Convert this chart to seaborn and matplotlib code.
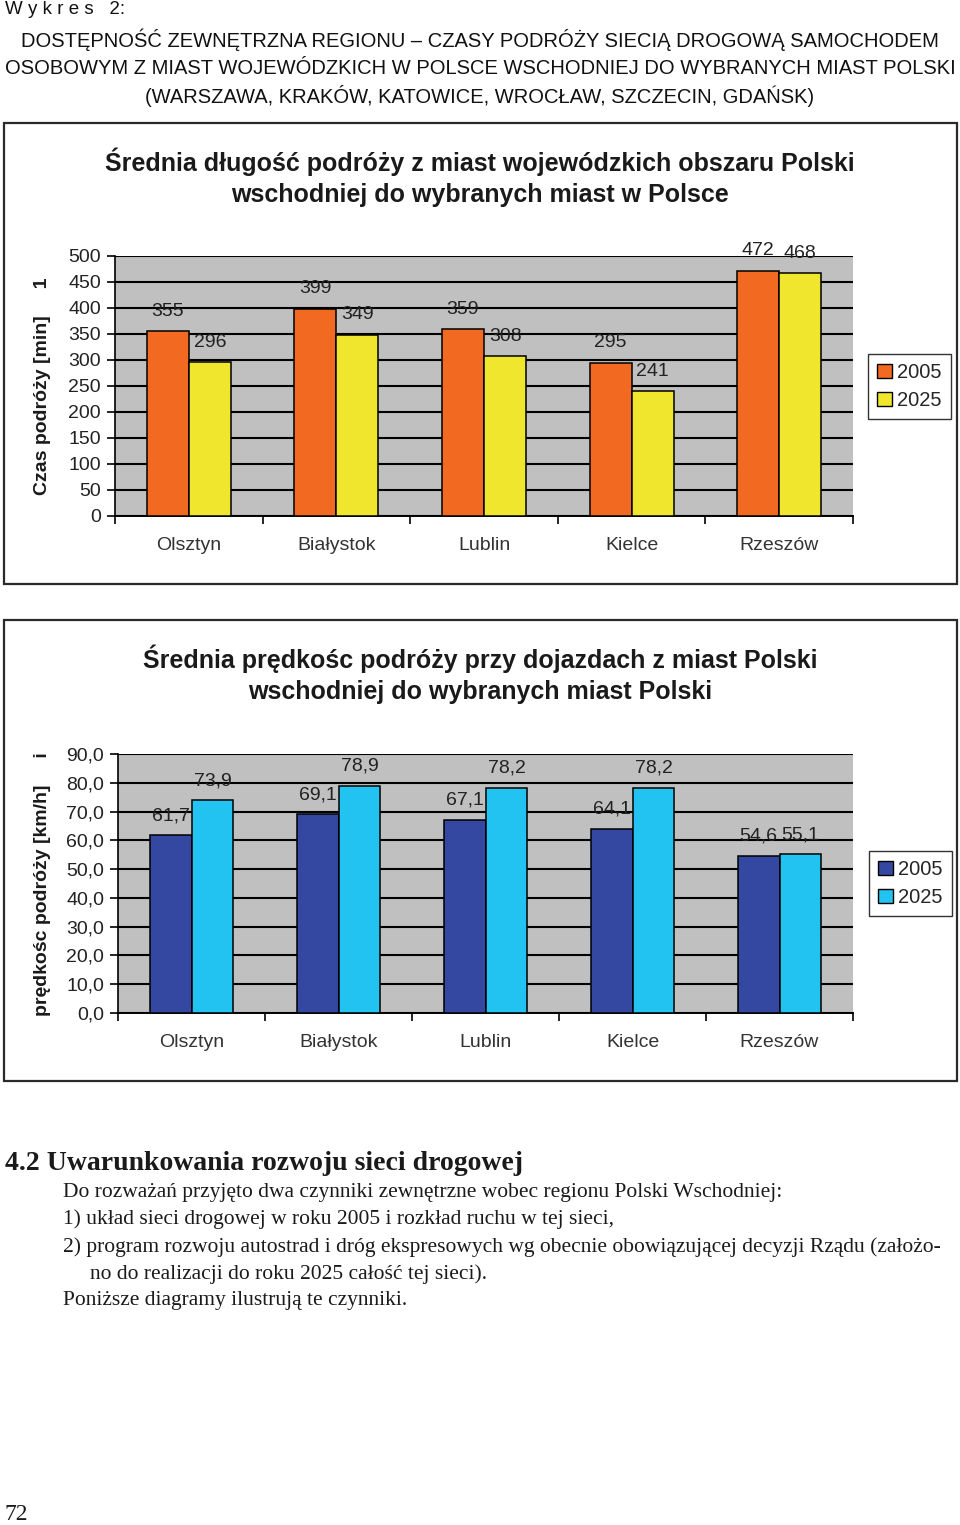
import numpy as np
import pandas as pd
import matplotlib
matplotlib.use("Agg")
import matplotlib.pyplot as plt
from matplotlib.patches import Rectangle
from matplotlib.ticker import FuncFormatter, FixedLocator
import seaborn as sns

# ─────────────────────────────────────────
# Data
# ─────────────────────────────────────────
cities     = ["Olsztyn", "Białystok", "Lublin", "Kielce", "Rzeszów"]
years      = ["2005", "2025"]
time_2005  = [355, 399, 359, 295, 472]
time_2025  = [296, 349, 308, 241, 468]
speed_2005 = [61.7, 69.1, 67.1, 64.1, 54.6]
speed_2025 = [73.9, 78.9, 78.2, 78.2, 55.1]

time_ticks  = [0, 50, 100, 150, 200, 250, 300, 350, 400, 450, 500]
speed_ticks = [0, 10, 20, 30, 40, 50, 60, 70, 80, 90]

W, H = 960, 1525

sns.set_style("white")
plt.rcParams["font.family"] = ["Liberation Sans", "DejaVu Sans"]

ORANGE, YELLOW = "#f26a22", "#efe62d"
NAVY, CYAN     = "#3448a2", "#22c3f1"
PANEL          = "#c0c0c0"


def px(x, y):
    return x / W, 1 - y / H


def rect(left, top, right, bottom):
    return [left / W, 1 - bottom / H, (right - left) / W, (bottom - top) / H]


def long_df(v05, v25):
    return pd.DataFrame({
        "city":  cities * 2,
        "year":  [years[0]] * len(cities) + [years[1]] * len(cities),
        "value": list(v05) + list(v25),
    })


def draw_chart(fig, box, frame, df, colors, ticks, ymax, fmt, title, ylabel,
               ylabel_y, legend_box):
    # frame around the chart
    fl, ft, fr, fb = frame
    fig.patches.append(Rectangle(px(fl, fb), (fr - fl) / W, (fb - ft) / H,
                                 transform=fig.transFigure, fill=False,
                                 edgecolor="#2a2a2a", lw=1.6, zorder=0))

    ax = fig.add_axes(rect(*box))
    ax.set_facecolor(PANEL)
    sns.barplot(data=df, x="city", y="value", hue="year", palette=colors,
                saturation=1, width=0.57, gap=0, edgecolor="black",
                linewidth=1.1, errorbar=None, ax=ax, zorder=3)

    ax.set_ylim(0, ymax)
    ax.set_xlim(-0.5, len(cities) - 0.5)
    ax.yaxis.set_major_locator(FixedLocator(ticks))
    ax.yaxis.set_major_formatter(FuncFormatter(lambda v, p: fmt(v)))
    ax.grid(axis="y", color="black", lw=1.5, zorder=1)
    ax.set_axisbelow(True)

    ax.xaxis.set_minor_locator(FixedLocator(np.arange(-0.5, len(cities), 1.0)))
    ax.tick_params(axis="x", which="major", length=0, pad=15, labelsize=14)
    ax.tick_params(axis="x", which="minor", length=6, width=1.2, color="black",
                   direction="out", bottom=True)
    ax.tick_params(axis="y", length=6, width=1.2, color="black", direction="out",
                   left=True, labelsize=14, pad=4)
    for lab in ax.get_xticklabels():
        lab.set_color("#333333")
    for lab in ax.get_yticklabels():
        lab.set_color("#222222")

    for s in ["top", "right"]:
        ax.spines[s].set_visible(False)
    ax.spines["left"].set_color("black")
    ax.spines["left"].set_linewidth(1.2)
    ax.spines["bottom"].set_color("black")
    ax.spines["bottom"].set_linewidth(1.4)
    ax.set_xlabel("")
    ax.set_ylabel("")

    for cont in ax.containers:
        vals = [b.get_height() for b in cont]
        ax.bar_label(cont, labels=[fmt(v) for v in vals], padding=8,
                     fontsize=14, color="#222222")

    ax.legend_.remove()
    handles = [Rectangle((0, 0), 1, 1, facecolor=c, edgecolor="black", lw=1)
               for c in colors]
    lx, ly = legend_box
    fig.legend(handles, years, loc="upper left", bbox_to_anchor=px(lx, ly),
               bbox_transform=fig.transFigure, frameon=True, fancybox=False,
               edgecolor="black", fontsize=14.5, handlelength=0.75,
               handleheight=0.75, handletextpad=0.25, borderpad=0.45,
               labelspacing=0.45, borderaxespad=0)

    tx, ty = title[1]
    fig.text(*px(tx, ty), title[0], ha="center", va="center", fontsize=18,
             fontweight="bold", color="#1a1a1a", linespacing=1.38)
    fig.text(*px(43, ylabel_y), ylabel, rotation=90, ha="center", va="center",
             fontsize=14, fontweight="bold", color="#1a1a1a")
    return ax


fig = plt.figure(figsize=(W / 100, H / 100), dpi=100)

# header
fig.text(*px(5, 10), "W y k r e s   2:", ha="left", va="center", fontsize=13.5,
         color="#111111")
header = [
    "DOSTĘPNOŚĆ ZEWNĘTRZNA REGIONU – CZASY PODRÓŻY SIECIĄ DROGOWĄ SAMOCHODEM",
    "OSOBOWYM Z MIAST WOJEWÓDZKICH W POLSCE WSCHODNIEJ DO WYBRANYCH MIAST POLSKI",
    "(WARSZAWA, KRAKÓW, KATOWICE, WROCŁAW, SZCZECIN, GDAŃSK)",
]
for i, line in enumerate(header):
    fig.text(*px(480, 40 + 28 * i), line, ha="center", va="center",
             fontsize=14.5, color="#111111")

# chart 1 - travel time
draw_chart(fig, (115, 256, 853, 516), (4, 123, 957, 584),
           long_df(time_2005, time_2025), [ORANGE, YELLOW], time_ticks, 500,
           lambda v: f"{v:.0f}",
           ("Średnia długość podróży z miast wojewódzkich obszaru Polski\n"
            "wschodniej do wybranych miast w Polsce", (480, 177)),
           "Czas podróży [min]     1", 386, (868, 354))

# chart 2 - travel speed
draw_chart(fig, (118, 754, 853, 1013), (4, 620, 957, 1081),
           long_df(speed_2005, speed_2025), [NAVY, CYAN], speed_ticks, 90,
           lambda v: f"{v:.1f}".replace(".", ","),
           ("Średnia prędkośc podróży przy dojazdach z miast Polski\n"
            "wschodniej do wybranych miast Polski", (480, 674)),
           "prędkośc podróży [km/h]     i", 884, (869, 851))

# section text
serif = ["Liberation Serif", "DejaVu Serif"]
fig.text(*px(5, 1163), "4.2 Uwarunkowania rozwoju sieci drogowej", ha="left",
         va="center", fontsize=20, fontweight="bold", family=serif,
         color="#1a1a1a")
body = [
    (63, 1192, "Do rozważań przyjęto dwa czynniki zewnętrzne wobec regionu Polski Wschodniej:"),
    (63, 1219, "1) układ sieci drogowej w roku 2005 i rozkład ruchu w tej sieci,"),
    (63, 1247, "2) program rozwoju autostrad i dróg ekspresowych wg obecnie obowiązującej decyzji Rządu (założo-"),
    (90, 1274, "no do realizacji do roku 2025 całość tej sieci)."),
    (63, 1301, "Poniższe diagramy ilustrują te czynniki."),
]
for x, y, t in body:
    fig.text(*px(x, y), t, ha="left", va="center", fontsize=15.5, family=serif,
             color="#1a1a1a")

fig.text(*px(5, 1515), "72", ha="left", va="center", fontsize=17, family=serif,
         color="#1a1a1a")

fig.savefig("out.png", dpi=100)
